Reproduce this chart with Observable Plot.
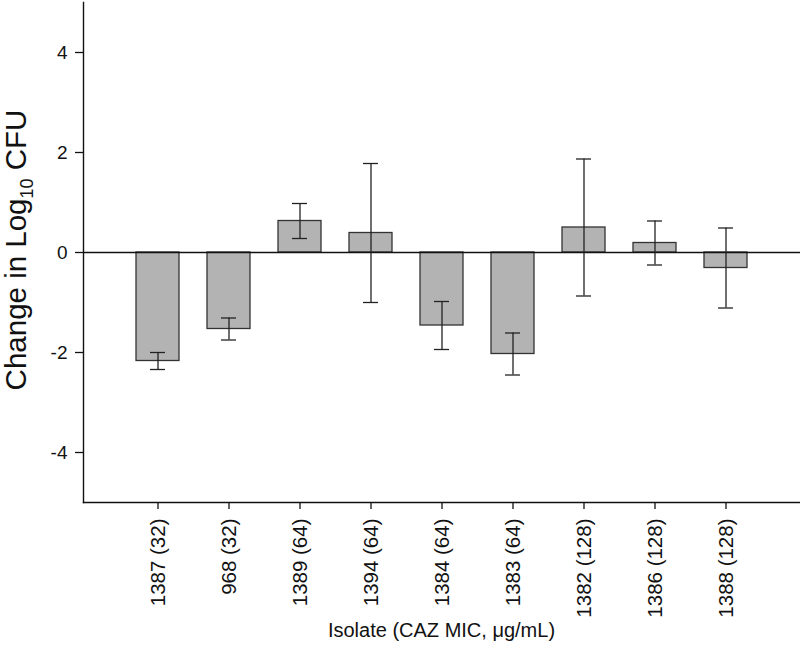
<!DOCTYPE html>
<html>
<head>
<meta charset="utf-8">
<script src="https://cdn.jsdelivr.net/npm/d3@7"></script>
<script src="https://cdn.jsdelivr.net/npm/@observablehq/plot@0.6"></script>
<style>
  html, body { margin: 0; padding: 0; background: #fff; }
  #chart svg { display: block; font-family: "Liberation Sans", Arial, sans-serif; }
</style>
</head>
<body>
<div id="chart"></div>
<script>
const isolates = ["1387 (32)", "968 (32)", "1389 (64)", "1394 (64)", "1384 (64)", "1383 (64)", "1382 (128)", "1386 (128)", "1388 (128)"];
const changes = [-2.17, -1.53, 0.63, 0.39, -1.46, -2.03, 0.50, 0.19, -0.31];
const errors = [0.17, 0.22, 0.35, 1.39, 0.48, 0.42, 1.37, 0.44, 0.80];
const yTicks = [-4, -2, 0, 2, 4];
const yDomain = [-5, 5];

const data = isolates.map((name, i) => ({
  name,
  value: changes[i],
  lo: changes[i] - errors[i],
  hi: changes[i] + errors[i]
}));

const W = 800, H = 651;
const plot = Plot.plot({
  width: W,
  height: H,
  marginLeft: 83,
  marginRight: 0,
  marginTop: 2,
  marginBottom: 149,
  style: { fontFamily: "Liberation Sans, Arial, sans-serif", background: "#fff" },
  x: { domain: isolates, paddingInner: 0.394, paddingOuter: 0.697, label: null },
  y: { domain: yDomain, label: null },
  marks: [
    Plot.barY(data, { x: "name", y: "value", fill: "#b3b3b3", stroke: "#333", strokeWidth: 1.3 }),
    Plot.ruleY([0], { stroke: "#111", strokeWidth: 1.4 }),
    Plot.ruleX(data, { x: "name", y1: "lo", y2: "hi", stroke: "#222", strokeWidth: 1.3 }),
    Plot.tickY(data, { x: "name", y: "lo", stroke: "#222", strokeWidth: 1.3, insetLeft: 14, insetRight: 14 }),
    Plot.tickY(data, { x: "name", y: "hi", stroke: "#222", strokeWidth: 1.3, insetLeft: 14, insetRight: 14 }),
    Plot.frame({ anchor: "left", stroke: "#111", strokeWidth: 1.4 }),
    Plot.frame({ anchor: "bottom", stroke: "#111", strokeWidth: 1.4 }),
    Plot.axisY({ ticks: yTicks, tickFormat: d => String(d), tickSize: 8, tickPadding: 8, fontSize: 19, stroke: "#111", strokeWidth: 1.3, fill: "#111", label: null }),
    Plot.axisX({ tickRotate: -90, tickSize: 7, tickPadding: 9, fontSize: 20.5, stroke: "#111", strokeWidth: 1.3, fill: "#111", label: null })
  ]
});

document.getElementById("chart").appendChild(plot);

const svg = d3.select(plot);
// y axis title with subscript
const yt = svg.append("text")
  .attr("transform", "translate(26,250) rotate(-90)")
  .attr("text-anchor", "middle")
  .attr("font-size", 29.5)
  .attr("fill", "#111")
  .attr("font-family", "Liberation Sans, Arial, sans-serif");
yt.append("tspan").text("Change in Log");
yt.append("tspan").attr("font-size", 18).attr("dy", 7).text("10");
yt.append("tspan").attr("dy", -7).text(" CFU");

// x axis title
svg.append("text")
  .attr("x", 441.5)
  .attr("y", 637)
  .attr("text-anchor", "middle")
  .attr("font-size", 20)
  .attr("fill", "#111")
  .attr("font-family", "Liberation Sans, Arial, sans-serif")
  .text("Isolate (CAZ MIC, μg/mL)");
</script>
</body>
</html>
